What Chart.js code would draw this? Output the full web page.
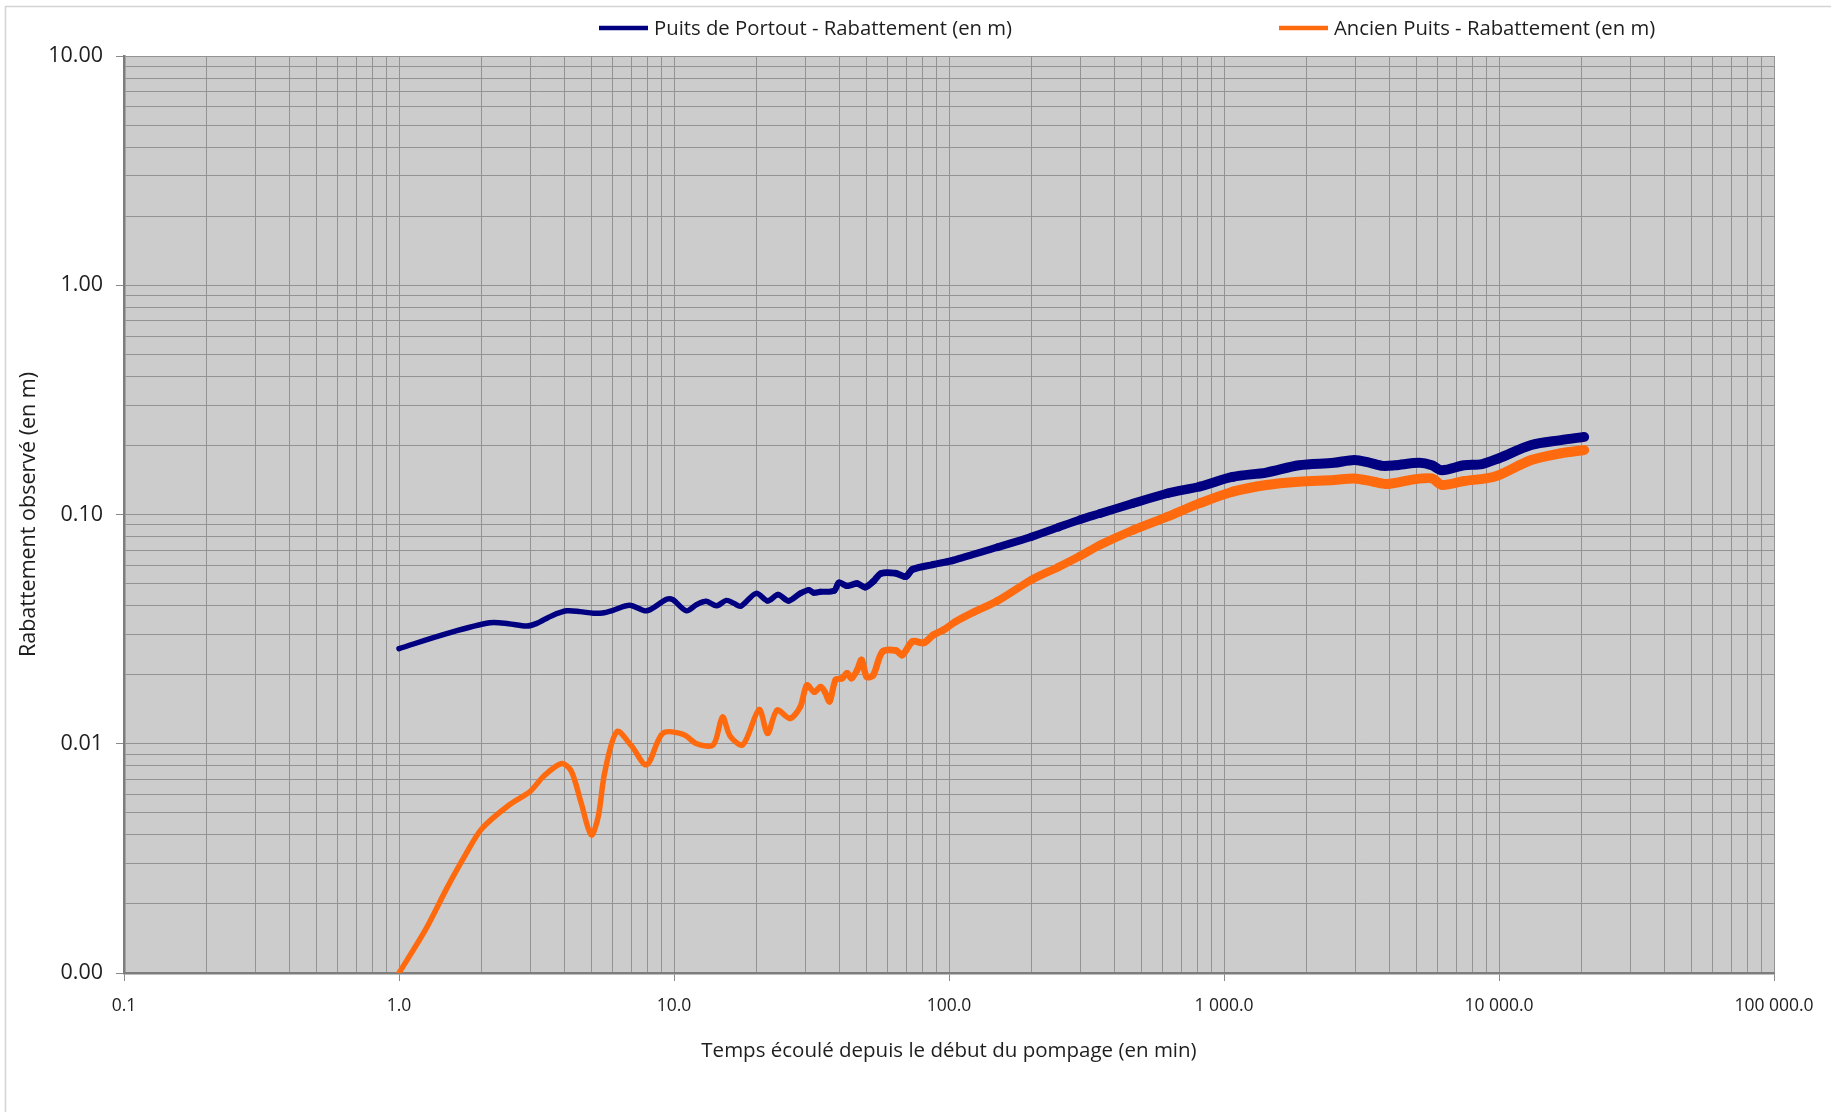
<!DOCTYPE html>
<html>
<head>
<meta charset="utf-8">
<script src="https://cdn.jsdelivr.net/npm/chart.js@4.4.0/dist/chart.umd.min.js"></script>
<style>
  html, body { margin: 0; padding: 0; background: #fff; }
  #wrap { width: 1831px; height: 1112px; position: relative; }
</style>
</head>
<body>
<div id="wrap"><canvas id="chart" width="1831" height="1112"></canvas></div>
<script>
// temps (min) et rabattement (m) - Puits de Portout
const portoutTime = [1.0, 1.5, 2.14, 2.5, 2.91, 3.17, 3.6, 4.07, 4.55, 5.09, 5.5, 6.0, 6.9, 7.95, 9.4, 9.9,
  11.1, 12.1, 13.1, 14.3, 15.5, 16.5, 17.5, 19.9, 21.9, 23.9, 26.1, 28.8, 30.9, 32.2, 34.1, 38.2, 39.8,
  42.6, 46.3, 49.6, 53.0, 56.7, 64.2, 69.6, 73.7, 87.6, 103, 150, 200, 250, 300, 354, 468, 622, 818,
  1078, 1425, 1873, 2510, 2980, 3400, 3780, 4190, 5140, 5700, 6200, 7470, 8680, 10000, 13100, 16800, 20400];
const portoutDrawdown = [0.0260, 0.0303, 0.0337, 0.0334, 0.0326, 0.0335, 0.0362, 0.0380, 0.0377, 0.0371, 0.0372,
  0.0382, 0.0402, 0.0380, 0.0427, 0.0425, 0.0380, 0.0405, 0.0418, 0.0400, 0.0422, 0.0410, 0.0398, 0.0453,
  0.0420, 0.0447, 0.0420, 0.0453, 0.0468, 0.0456, 0.0460, 0.0465, 0.0504, 0.0488, 0.0500, 0.0482, 0.0510,
  0.0554, 0.0554, 0.0536, 0.0576, 0.0605, 0.0630, 0.0720, 0.0800, 0.0880, 0.0950, 0.101, 0.112, 0.1237,
  0.1324, 0.146, 0.1524, 0.164, 0.168, 0.173, 0.168, 0.163, 0.164, 0.168, 0.164, 0.156, 0.164, 0.166,
  0.176, 0.201, 0.211, 0.218];

// temps (min) et rabattement (m) - Ancien Puits
const ancienTime = [1.0, 1.25, 1.5, 1.75, 2.0, 2.5, 3.0, 3.35, 3.9, 4.23, 4.6, 5.0, 5.3, 5.6, 6.2, 7.0, 7.95,
  9.1, 10.8, 12.1, 13.9, 15.0, 16.0, 17.8, 20.4, 21.9, 23.7, 26.4, 28.8, 30.4, 32.4, 34.1, 35.4, 36.8,
  38.7, 40.9, 42.6, 44.2, 46.3, 48.1, 50.2, 53, 57.3, 64.2, 67.6, 73.7, 81, 87.6, 95.6, 105.7, 124, 150,
  200, 250, 300, 354, 468, 622, 818, 1078, 1425, 1873, 2510, 2980, 3500, 3930, 4850, 5700, 6200, 7470,
  8980, 10000, 13100, 16800, 20400];
const ancienDrawdown = [0.0010, 0.00155, 0.00237, 0.0033, 0.00426, 0.00538, 0.0062, 0.0072, 0.0082, 0.0076,
  0.0055, 0.0040, 0.0048, 0.0075, 0.0113, 0.0098, 0.0081, 0.0111, 0.0110, 0.0100, 0.0099, 0.0131, 0.0108,
  0.0099, 0.0141, 0.0111, 0.0140, 0.0129, 0.0145, 0.0180, 0.0168, 0.0177, 0.0168, 0.0153, 0.0190, 0.0193,
  0.0203, 0.0193, 0.0209, 0.0232, 0.0196, 0.0199, 0.0252, 0.0255, 0.0244, 0.0279, 0.0276, 0.0298, 0.0314,
  0.0341, 0.0377, 0.042, 0.052, 0.059, 0.066, 0.0736, 0.0856, 0.0978, 0.112, 0.1258, 0.1345, 0.139,
  0.1413, 0.1437, 0.139, 0.136, 0.142, 0.1437, 0.1345, 0.140, 0.1437, 0.1486, 0.1728, 0.185, 0.191];

const seriesLabels = ['Puits de Portout - Rabattement (en m)', 'Ancien Puits - Rabattement (en m)'];
const xTickValues = [0.1, 1, 10, 100, 1000, 10000, 100000];
const xTickLabels = ['0.1', '1.0', '10.0', '100.0', '1 000.0', '10 000.0', '100 000.0'];
const yTickValues = [0.001, 0.01, 0.1, 1, 10];
const yTickLabels = ['0.00', '0.01', '0.10', '1.00', '10.00'];

const FONT = '"Open Sans", "Noto Sans", sans-serif';
Chart.defaults.font.family = FONT;
Chart.defaults.color = '#1e1e1e';

function logTicks(values) {
  // 1..9 x 10^n entre les bornes
  const out = [];
  for (let i = 0; i < values.length - 1; i++) {
    for (let d = 1; d <= 9; d++) out.push({ value: +(values[i] * d).toPrecision(6) });
  }
  out.push({ value: values[values.length - 1] });
  return out;
}

function labelFor(values, labels, v) {
  const i = values.findIndex(t => Math.abs(t - v) / t < 1e-6);
  return i >= 0 ? labels[i] : '';
}

function isMajor(values, v) {
  return values.some(t => Math.abs(t - v) / t < 1e-6);
}

// trait plus epais la ou la mesure est bruitee
function lineWidth(ctx) {
  const lx = Math.log10(ctx.p0.parsed.x);
  return Math.max(5.5, Math.min(10, 5.5 + (lx - 1.3) * 2.6));
}

const plotBg = {
  id: 'plotBg',
  beforeDraw(chart) {
    const { ctx, chartArea: a } = chart;
    ctx.save();
    ctx.fillStyle = '#ffffff';
    ctx.fillRect(0, 0, chart.width, chart.height);
    ctx.strokeStyle = '#d4d4d4';
    ctx.lineWidth = 1.5;
    ctx.strokeRect(5.5, 6.5, chart.width + 10, chart.height + 10);
    ctx.fillStyle = '#cccccc';
    ctx.fillRect(a.left, a.top, a.right - a.left, a.bottom - a.top);
    ctx.restore();
  }
};

const legendX = [599, 1279];
const lineLegend = {
  id: 'lineLegend',
  afterDraw(chart) {
    const ctx = chart.ctx;
    ctx.save();
    ctx.font = '20.3px ' + FONT;
    ctx.textBaseline = 'middle';
    ctx.textAlign = 'left';
    chart.data.datasets.forEach((ds, i) => {
      const x = legendX[i], y = 28;
      ctx.strokeStyle = ds.borderColor;
      ctx.lineWidth = 4.5;
      ctx.beginPath();
      ctx.moveTo(x, y);
      ctx.lineTo(x + 49, y);
      ctx.stroke();
      ctx.fillStyle = '#1e1e1e';
      ctx.fillText(ds.label, x + 55, y + 1);
    });
    ctx.restore();
  }
};

const toPoints = (xs, ys) => xs.map((t, i) => ({ x: t, y: ys[i] }));

new Chart(document.getElementById('chart').getContext('2d'), {
  type: 'line',
  data: {
    datasets: [
      {
        label: seriesLabels[0],
        data: toPoints(portoutTime, portoutDrawdown),
        borderColor: '#000080',
        borderWidth: 5.5,
        pointRadius: 0,
        tension: 0.3,
        borderJoinStyle: 'round',
        borderCapStyle: 'round',
        segment: { borderWidth: lineWidth }
      },
      {
        label: seriesLabels[1],
        data: toPoints(ancienTime, ancienDrawdown),
        borderColor: '#ff6a0e',
        borderWidth: 5.5,
        pointRadius: 0,
        tension: 0.3,
        borderJoinStyle: 'round',
        borderCapStyle: 'round',
        segment: { borderWidth: lineWidth }
      }
    ]
  },
  options: {
    responsive: false,
    animation: false,
    devicePixelRatio: 1,
    layout: { padding: { top: 56, right: 57, left: 0, bottom: 0 } },
    plugins: {
      legend: { display: false },
      tooltip: { enabled: false }
    },
    scales: {
      x: {
        type: 'logarithmic',
        min: 0.1,
        max: 100000,
        afterBuildTicks: s => { s.ticks = logTicks(xTickValues); },
        afterFit: s => { s.height = 139; },
        ticks: {
          autoSkip: false,
          maxRotation: 0,
          padding: 15,
          font: { size: 17.5 },
          color: '#1e1e1e',
          callback: v => labelFor(xTickValues, xTickLabels, v)
        },
        grid: {
          color: '#939393',
          lineWidth: 1,
          tickLength: 8,
          tickColor: c => isMajor(xTickValues, c.tick.value) ? '#8a8a8a' : 'rgba(0,0,0,0)'
        },
        border: { color: '#7d7d7d', width: 2.5 },
        title: {
          display: true,
          text: 'Temps écoulé depuis le début du pompage (en min)',
          font: { size: 20.5 },
          color: '#1e1e1e',
          padding: { top: 0, bottom: 49 }
        }
      },
      y: {
        type: 'logarithmic',
        min: 0.001,
        max: 10,
        afterBuildTicks: s => { s.ticks = logTicks(yTickValues); },
        afterFit: s => { s.width = 124; },
        ticks: {
          autoSkip: false,
          padding: 13,
          font: { size: 21.5 },
          color: '#1e1e1e',
          callback: v => labelFor(yTickValues, yTickLabels, v)
        },
        grid: {
          color: '#939393',
          lineWidth: 1,
          tickLength: 8,
          tickColor: c => isMajor(yTickValues, c.tick.value) ? '#8a8a8a' : 'rgba(0,0,0,0)'
        },
        border: { color: '#7d7d7d', width: 2.5 },
        title: {
          display: true,
          text: 'Rabattement observé (en m)',
          font: { size: 21.5 },
          color: '#1e1e1e',
          padding: { top: 16, bottom: 0 }
        }
      }
    }
  },
  plugins: [plotBg, lineLegend]
});
</script>
</body>
</html>
